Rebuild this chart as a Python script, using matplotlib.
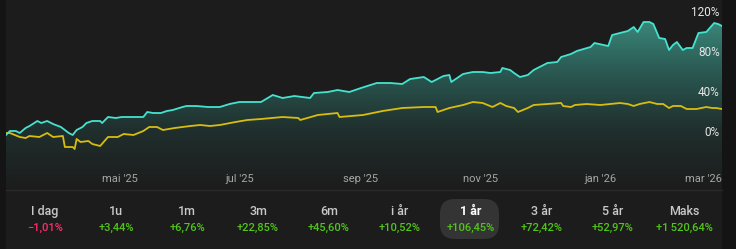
import numpy as np
import pandas as pd
import matplotlib
matplotlib.use("Agg")
import matplotlib.pyplot as plt
from matplotlib.colors import LinearSegmentedColormap
from matplotlib.patches import FancyBboxPatch, Rectangle

plt.rcParams["font.family"] = ["Roboto", "DejaVu Sans"]

# ---- data ----
start = pd.Timestamp("2025-03-04")

fund_days = [0, 2, 5, 7, 10, 12, 16, 18, 21, 24, 28, 30, 32, 34, 36, 39, 41, 44, 48, 49,
             52, 56, 59, 63, 67, 70, 72, 75, 79, 82, 85, 90, 92, 97, 103, 109, 114, 119,
             124, 130, 136, 141, 147, 155, 157, 164, 169, 175, 181, 189, 196, 202, 206,
             213, 217, 223, 226, 227, 233, 238, 243, 247, 252, 253, 257, 259, 262, 266,
             269, 272, 276, 281, 283, 288, 291, 298, 300, 307, 309, 313, 317, 320, 322,
             325, 328, 330, 333, 336, 338, 340, 342, 345, 347, 350, 353, 357, 361, 363, 365]
fund_pct = [-3, 1, 1, -1, 4, 6, 11, 9, 11, 8, 5, 2, -1, -3, 2, 5, 9, 11, 11, 9,
            15, 14, 15, 15, 15, 15, 20, 19, 19, 21, 22, 25, 26, 26, 25, 25, 28, 30,
            30, 30, 37, 34, 36, 34, 39, 40, 42, 40, 44, 49, 49, 48, 53,
            55, 50, 56, 57, 50, 58, 60, 60, 59, 60, 64, 62, 59, 55, 57,
            62, 65, 69, 70, 75, 78, 81, 85, 89, 86, 97, 99, 101, 105, 100,
            110, 110, 108, 94, 93, 82, 87, 90, 82, 84, 84, 99, 100, 109, 108, 106]

index_days = [0, 2, 7, 10, 12, 17, 21, 24, 29, 30, 34, 35, 36, 38, 42, 44, 48, 52, 57, 60,
              65, 70, 73, 77, 80, 86, 94, 99, 104, 109, 117, 123, 130, 141, 149, 150,
              159, 169, 170, 182, 192, 202, 213, 219, 220, 226, 233, 238, 243, 248, 252,
              255, 259, 261, 266, 269, 276, 283, 284, 288, 290, 296, 303, 313, 317, 320,
              323, 328, 332, 335, 338, 340, 344, 347, 352, 357, 360, 362, 365]
index_pct = [-1, -1, -5, -6, -4, -5, -1, -5, -4, -15, -15, -17, -7, -10, -9, -12, -14, -5, -5, -2,
             -3, 1, 5, 5, 2, 4, 6, 7, 6, 7, 10, 12, 13, 15, 14, 12,
             17, 19, 15, 17, 21, 24, 25, 25, 20, 24, 27, 30, 29, 25, 29,
             26, 24, 20, 24, 27, 28, 29, 26, 25, 27, 28, 27, 29, 28, 26,
             28, 30, 28, 28, 24, 26, 26, 23, 23, 25, 24, 24, 23]

x_ticks = ["2025-05-01", "2025-07-01", "2025-09-01", "2025-11-01", "2026-01-01", "2026-03-01"]
x_tick_labels = ["mai '25", "jul '25", "sep '25", "nov '25", "jan '26", "mar '26"]
y_ticks = [120, 80, 40, 0]

periods = ["I dag", "1u", "1m", "3m", "6m", "i år", "1 år", "3 år", "5 år", "Maks"]
returns = ["\u22121,01%", "+3,44%", "+6,76%", "+22,85%", "+45,60%", "+10,52%",
           "+106,45%", "+72,42%", "+52,97%", "+1\u2009520,64%"]
selected = "1 år"

fund_dates = start + pd.to_timedelta(fund_days, unit="D")
index_dates = start + pd.to_timedelta(index_days, unit="D")

# ---- figure ----
W, H = 736, 249
OUTER = "#141414"
PANEL = "#1c1c1c"
fig = plt.figure(figsize=(W / 100, H / 100), dpi=100)
fig.patch.set_facecolor(OUTER)

# panel background (x 6..722), behind the axes
fig.patches.append(Rectangle((6 / W, 0), 716 / W, 1, transform=fig.transFigure,
                             facecolor=PANEL, edgecolor="none", zorder=-5))
# separator line
fig.add_artist(plt.Line2D([6 / W, 722 / W], [1 - 190 / H] * 2, color="#2a2a2a",
                          lw=1, transform=fig.transFigure))

ax = fig.add_axes([6 / W, 1 - 189 / H, 716 / W, 189 / H])
ax.set_facecolor("none")
ax.set_xlim(fund_dates[0], fund_dates[-1])
ax.set_ylim(-57, 132)
ax.axis("off")

# gradient fill under the fund line
ymin, ymax = ax.get_ylim()
cmap = LinearSegmentedColormap.from_list("g", [PANEL, "#20302e", "#2b5c55", "#3f9384"])
grad = np.linspace(0, 1, 256).reshape(-1, 1)
xn = matplotlib.dates.date2num(fund_dates)
im = ax.imshow(grad, cmap=cmap, aspect="auto", origin="lower",
               extent=[xn[0], xn[-1], ymin, 125], zorder=1)
poly = ax.fill_between(fund_dates, fund_pct, ymin, color="none", lw=0)
im.set_clip_path(poly.get_paths()[0], transform=ax.transData)
ax.set_xlim(fund_dates[0], fund_dates[-1])
ax.set_ylim(ymin, ymax)

ax.plot(index_dates, index_pct, color="#d8bd10", lw=1.3, zorder=3)
ax.plot(fund_dates, fund_pct, color="#45e3cf", lw=1.3, zorder=4)

# y labels (inside, right)
for v in y_ticks:
    ax.text(0.997, v, f"{v}%", transform=ax.get_yaxis_transform(), ha="right",
            va="center", color="#e6e6e6", fontsize=8.5, zorder=5)

# x labels
for d, lab in zip(x_ticks, x_tick_labels):
    dt = pd.Timestamp(d)
    ha = "center"
    if dt > fund_dates[-1] - pd.Timedelta(days=15):
        dt = fund_dates[-1]
        ha = "right"
    ax.text(dt, -47, lab, ha=ha, va="center", color="#a6a6a6", fontsize=8, zorder=5)

# ---- period returns row ----
for i, (p, r) in enumerate(zip(periods, returns)):
    cx = (45 + 71 * i) / W
    if p == selected:
        fig.patches.append(FancyBboxPatch((440 / W, 1 - 239 / H), 59 / W, 40 / H,
                                          boxstyle="round,pad=0,rounding_size=0.02",
                                          transform=fig.transFigure, mutation_aspect=W / H,
                                          facecolor="#343434", edgecolor="none", zorder=1))
    fig.text(cx, 1 - 211 / H, p, ha="center", va="center", fontsize=9,
             color="#ffffff" if p == selected else "#c8c8c8",
             fontweight="bold" if p == selected else "medium")
    fig.text(cx, 1 - 228 / H, r, ha="center", va="center", fontsize=8,
             color="#ff2d6a" if r.startswith("\u2212") else "#52c41a", fontweight="medium")

fig.savefig("out.png", dpi=100, facecolor=fig.get_facecolor())
